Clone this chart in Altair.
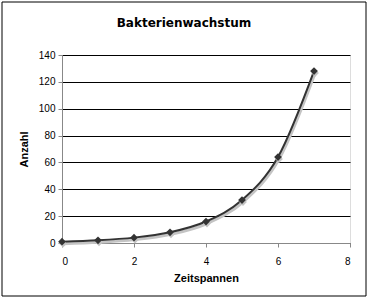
import altair as alt
import pandas as pd

zeit = [0, 1, 2, 3, 4, 5, 6, 7]
anzahl = [1, 2, 4, 8, 16, 32, 64, 128]

df = pd.DataFrame({"Zeitspannen": zeit, "Anzahl": anzahl})

FONT = "DejaVu Sans"

x = alt.X("Zeitspannen:Q", title="Zeitspannen",
          scale=alt.Scale(domain=[0, 8], nice=False),
          axis=alt.Axis(values=[0, 2, 4, 6, 8], grid=False, tickSize=4,
                        labelPadding=9, titlePadding=6))
y = alt.Y("Anzahl:Q", title="Anzahl",
          scale=alt.Scale(domain=[0, 140], nice=False),
          axis=alt.Axis(values=[0, 20, 40, 60, 80, 100, 120, 140], grid=True,
                        gridColor="black", gridOpacity=1, gridWidth=1,
                        tickSize=4, labelPadding=3, titlePadding=9))

base = alt.Chart(df)

border = base.mark_rect(fill=None, stroke="black", strokeWidth=1, clip=False).encode(
    x=alt.value(-60), x2=alt.value(304), y=alt.value(-53), y2=alt.value(241)
).transform_filter("datum.Zeitspannen == 0")

shadow = base.mark_line(color="#c4c4c4", strokeWidth=3, interpolate="monotone",
                        xOffset=1, yOffset=2).encode(x=x, y=y)
line = base.mark_line(color="#333333", strokeWidth=2, interpolate="monotone").encode(x=x, y=y)
pts_shadow = base.mark_point(shape="diamond", filled=True, color="#c4c4c4", size=60,
                             opacity=1, xOffset=1, yOffset=2).encode(x=x, y=y)
pts = base.mark_point(shape="diamond", filled=True, color="#333333", size=60,
                      opacity=1).encode(x=x, y=y)

chart = alt.layer(border, shadow, line, pts_shadow, pts).properties(
    width=288, height=188,
    title=alt.TitleParams("Bakterienwachstum", fontSize=12, font=FONT,
                          fontWeight="bold", anchor="middle", frame="bounds",
                          offset=-28, color="black"),
    autosize=alt.AutoSizeParams(type="none"),
    padding={"left": 62, "top": 55, "right": 18, "bottom": 55},
).configure_view(stroke="#888888", strokeWidth=1).configure_axis(
    domainColor="black", tickColor="black",
    labelFont=FONT, titleFont=FONT, labelFontSize=10, titleFontSize=10.5,
    labelColor="black", titleColor="black", titleFontWeight="bold",
).configure(background="white")

chart.save("out.html", embed_options={"renderer": "svg", "actions": False})
